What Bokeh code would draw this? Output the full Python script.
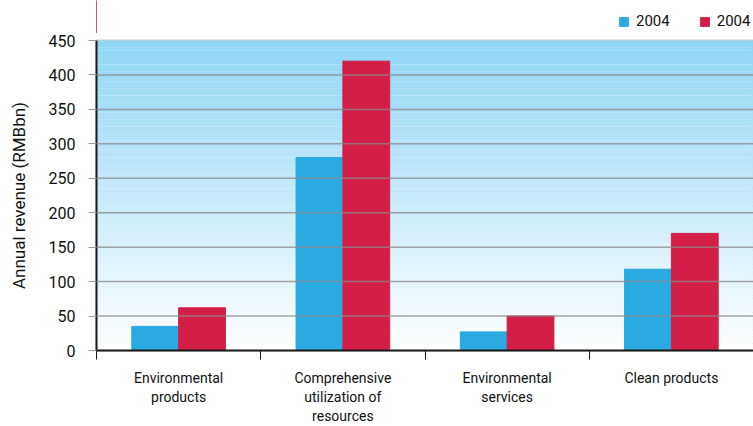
import numpy as np
from bokeh.plotting import figure
from bokeh.layouts import column
from bokeh.models import (ColumnDataSource, Range1d, FixedTicker, LinearAxis,
                          Legend, LegendItem, Span)
from bokeh.embed import file_html
from bokeh.resources import INLINE

categories = ["Environmental products", "Comprehensive utilization of resources",
              "Environmental services", "Clean products"]
cat_labels = ["Environmental\nproducts", "Comprehensive\nutilization of\nresources",
              "Environmental\nservices", "Clean products"]
series_a = [35, 280, 27, 118]
series_b = [62, 420, 50, 170]
series_names = ["2004", "2004"]
y_ticks = [0, 50, 100, 150, 200, 250, 300, 350, 400, 450]

FONT = "Roboto"
TXT = "#111111"
BLUE = "#29aae1"
RED = "#d31f48"

n = len(categories)
centers = [i + 0.5 for i in range(n)]
bw = 0.285

# ---------- legend strip above the chart ----------
top = figure(width=753, height=33, output_backend="svg", toolbar_location=None,
             x_range=Range1d(0, 1), y_range=Range1d(0, 1),
             x_axis_type=None, y_axis_type=None)
top.min_border_left = 96
top.min_border_right = 0
top.min_border_top = 0
top.min_border_bottom = 0
top.outline_line_color = None
top.xgrid.visible = False
top.ygrid.visible = False
# legend proxies (placed outside the visible range, only their swatches are shown)
la = top.vbar(x=[-5], top=[1], width=0.1, fill_color=BLUE, line_color=BLUE)
lb = top.vbar(x=[-5], top=[1], width=0.1, fill_color=RED, line_color=RED)
legend = Legend(items=[LegendItem(label=series_names[0], renderers=[la]),
                       LegendItem(label=series_names[1], renderers=[lb])],
                orientation="horizontal", location=(522, 3))
legend.label_text_font = FONT
legend.label_text_font_size = "15px"
legend.label_text_color = TXT
legend.glyph_width = 11
legend.glyph_height = 11
legend.spacing = 29
legend.label_standoff = 7
legend.border_line_color = None
legend.background_fill_alpha = 0
legend.padding = 4
legend.margin = 0
top.add_layout(legend)

# ---------- main chart ----------
p = figure(width=753, height=393, output_backend="svg", toolbar_location=None,
           x_range=Range1d(0, n), y_range=Range1d(0, 450),
           x_axis_type=None, y_axis_type=None)
p.min_border_left = 96
p.min_border_right = 0
p.min_border_top = 7
p.min_border_bottom = 10
p.outline_line_color = "#c8c8c8"
p.outline_line_width = 2
p.background_fill_color = "white"
p.border_fill_color = "white"
p.xgrid.visible = False
p.ygrid.visible = False

# gradient background as thin bands (style only)
NB = 90
edges = np.linspace(0, 450, NB + 1)
tt = (edges[:-1] + edges[1:]) / 2 / 450.0
top_c = np.array([143, 214, 245])
bot_c = np.array([255, 255, 255])
band_cols = ["#%02x%02x%02x" % tuple((bot_c * (1 - v) + top_c * v).astype(int)) for v in tt]
p.quad(left=0, right=n, bottom=edges[:-1], top=edges[1:] + 0.3,
       fill_color=band_cols, line_color=None)

src = ColumnDataSource(dict(xa=[c - bw / 2 for c in centers],
                            xb=[c + bw / 2 for c in centers],
                            a=series_a, b=series_b))
ra = p.vbar(x="xa", top="a", bottom=0, width=bw, source=src,
            fill_color=BLUE, line_color=BLUE)
rb = p.vbar(x="xb", top="b", bottom=0, width=bw, source=src,
            fill_color=RED, line_color=RED)

# gridlines above bars
for yv in y_ticks[1:-1]:
    p.add_layout(Span(location=yv, dimension="width", line_color="#8a8a8a",
                      line_alpha=0.75, line_width=1.5))

# y axis
yax = LinearAxis(ticker=FixedTicker(ticks=y_ticks))
yax.axis_label = "Annual revenue (RMBbn)"
yax.axis_label_text_font = FONT
yax.axis_label_text_font_style = "normal"
yax.axis_label_text_font_size = "17px"
yax.axis_label_text_color = TXT
yax.axis_label_standoff = 17
yax.major_label_text_font = FONT
yax.major_label_text_font_size = "16px"
yax.major_label_text_color = TXT
yax.major_label_standoff = 13
yax.major_tick_out = 8
yax.major_tick_in = 0
yax.major_tick_line_color = "#999999"
yax.minor_tick_line_color = None
yax.axis_line_color = "#1a1a1a"
yax.axis_line_width = 2
p.add_layout(yax, "left")

# x axis: ticks at category boundaries (blank labels)
xax = LinearAxis(ticker=FixedTicker(ticks=[0, 1, 2, 3]))
xax.major_label_overrides = {0: " ", 1: " ", 2: " ", 3: " "}
xax.major_label_text_font_size = "1px"
xax.major_label_standoff = 0
xax.major_tick_out = 9
xax.major_tick_in = 0
xax.major_tick_line_color = "#1a1a1a"
xax.minor_tick_line_color = None
xax.axis_line_color = "#1a1a1a"
xax.axis_line_width = 2
p.add_layout(xax, "below")

# category labels at centres
xlab = LinearAxis(ticker=FixedTicker(ticks=centers))
xlab.major_label_overrides = {c: l for c, l in zip(centers, cat_labels)}
xlab.major_label_text_font = FONT
xlab.major_label_text_font_size = "14px"
xlab.major_label_text_color = TXT
xlab.major_label_standoff = 0
xlab.major_tick_line_color = None
xlab.minor_tick_line_color = None
xlab.axis_line_color = None
p.add_layout(xlab, "below")

layout = column(top, p, spacing=0)
open("out.html", "w").write(file_html(layout, INLINE))
